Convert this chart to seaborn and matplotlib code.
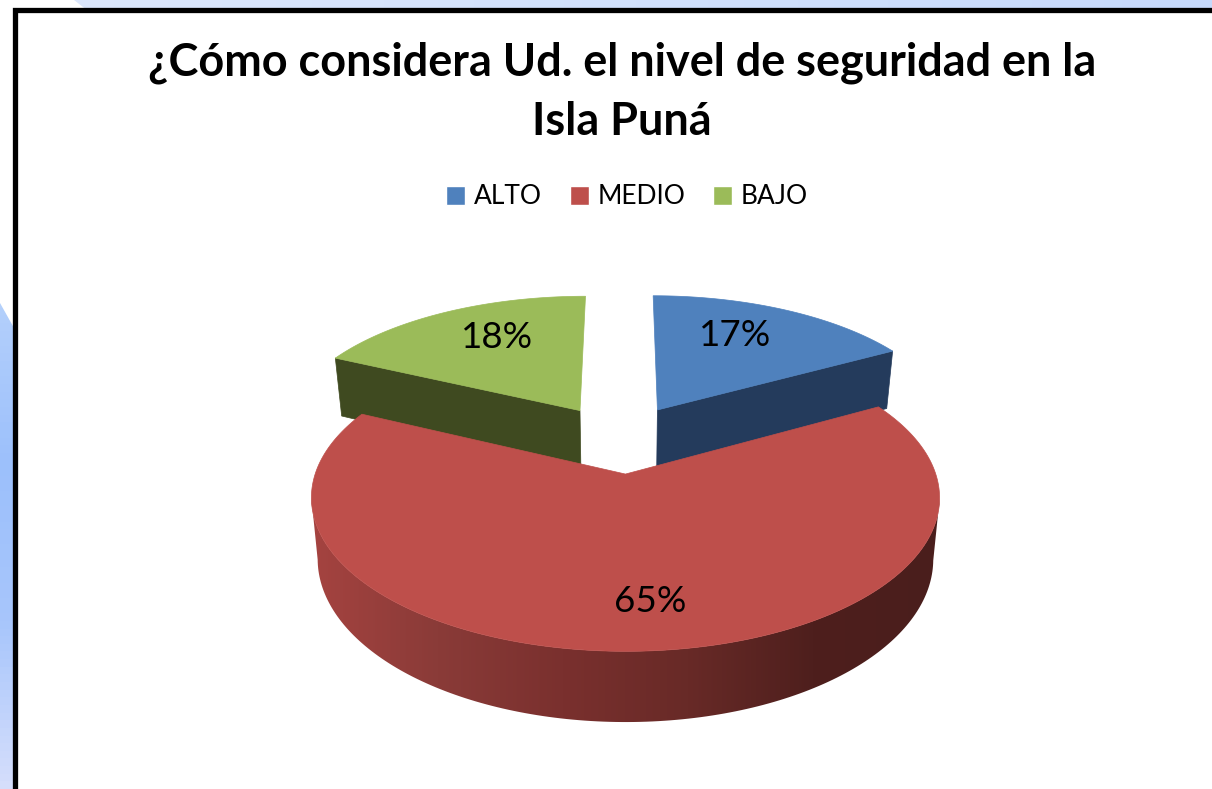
import numpy as np
import matplotlib
matplotlib.use("Agg")
from matplotlib import pyplot as plt
from matplotlib.colors import LinearSegmentedColormap
from matplotlib.patches import Patch, Polygon, Rectangle
import seaborn as sns

# chart data
categories = ["ALTO", "MEDIO", "BAJO"]
values = [17, 65, 18]
labels = ["17%", "65%", "18%"]
title = "¿Cómo considera Ud. el nivel de seguridad en la\nIsla Puná"

top_colors = ["#4F81BD", "#BE4F4B", "#9BBB59"]
side_colors = ["#243B5C", "#7A302E", "#3F4A20"]
red_side = ["#A54340", "#8A3B38", "#7A302E", "#682A27", "#4E1F1D", "#4A1E1C"]

sns.set_theme(style="white")
plt.rcParams["font.family"] = "Lato"

fig = plt.figure(figsize=(12.12, 7.89), dpi=100)
ax = fig.add_axes([0, 0, 1, 1])
ax.axis("off")

# slide background behind the chart
sky = LinearSegmentedColormap.from_list("sky", ["#DCE7FB", "#C6D9FB"])
img = ax.imshow(np.linspace(0, 1, 64)[None, :], extent=(60, 1212, 14, 0), cmap=sky, aspect="auto")
img.set_clip_path(Polygon([(74, 0), (1212, 0), (1212, 14), (92, 14)], transform=ax.transData))
side = LinearSegmentedColormap.from_list("side", ["#B4D0FB", "#9CC0FB", "#A8C6FB", "#D5DEFB"])
img = ax.imshow(np.linspace(0, 1, 64)[:, None], extent=(0, 14, 789, 300), cmap=side, aspect="auto")
img.set_clip_path(Polygon([(0, 303), (14, 328), (14, 789), (0, 789)], transform=ax.transData))

# chart frame
ax.add_patch(Rectangle((14.5, 9.5), 1260, 840, fc="white", ec="black", lw=3.8, zorder=1))

# angles and exploded centres come from a regular pie on a hidden axes
pie_ax = fig.add_axes([0, 0, 0.1, 0.1])
wedges, _ = pie_ax.pie(values, startangle=90, counterclock=False, explode=[0.2, 0.2, 0.2])
pie_ax.set_visible(False)
blue, red, green = wedges


def project(x, y, z=0.0):
    w = 1 + 0.15 * y
    s = 1 - 0.02 * z
    return 623.5 + 301 * s * x / w, 445 - 141 * y / w + 58 * z / w


def outline(wedge, z=0.0, gap=(1.0, 1.0)):
    cx, cy = wedge.center
    t = np.radians(np.linspace(wedge.theta1, wedge.theta2, 240))
    xs = np.r_[cx * gap[0], cx * gap[0] + np.cos(t)]
    ys = np.r_[cy * gap[1], cy * gap[1] + np.sin(t)]
    return project(xs, ys, z)


def radial_face(wedge, index, gap):
    x0, y0 = outline(wedge, 0.0, gap)
    x1, y1 = outline(wedge, 1.1, gap)
    return [x0[0], x0[index], x1[index], x1[0]], [y0[0], y0[index], y1[index], y1[0]]


def silhouette(xs, ys):
    # part of the arc between its left and right extremes on screen
    i, j = np.argmin(xs[1:]) + 1, np.argmax(xs[1:]) + 1
    return xs[i:j + 1], ys[i:j + 1]


blue_gap = (1.15, 1.5)
green_gap = (1.4, 1.5)

# far slices first
xs, ys = radial_face(blue, 1, blue_gap)
ax.fill(xs, ys, color=side_colors[0], lw=0.5, zorder=2)
xs, ys = radial_face(green, -1, green_gap)
ax.fill(xs, ys, color=side_colors[2], lw=0.5, zorder=2)
xs, ys = outline(blue, 0.0, blue_gap)
ax.fill(xs, ys, color=top_colors[0], lw=0.5, zorder=3)
xs, ys = outline(green, 0.0, green_gap)
ax.fill(xs, ys, color=top_colors[2], lw=0.5, zorder=3)

# red rim with its horizontal shading
shade = LinearSegmentedColormap.from_list("shade", red_side)
x0, y0 = outline(red)
top_x, top_y = silhouette(x0, y0)
low_x, low_y = silhouette(*outline(red, 1.0))
rim = Polygon(np.c_[np.r_[top_x, low_x[::-1]], np.r_[top_y, low_y[::-1]]], transform=ax.transData)
img = ax.imshow(np.linspace(0, 1, 256)[None, :], extent=(top_x.min(), top_x.max(), 740, 380),
                cmap=shade, aspect="auto", zorder=4)
img.set_clip_path(rim)
ax.fill(x0, y0, color=top_colors[1], lw=0.5, zorder=5)

ax.set_xlim(0, 1212)
ax.set_ylim(789, 0)

# percentages
ax.text(735, 335, labels[0], fontsize=26.5, ha="center", va="center", color="black", zorder=6)
ax.text(650, 602, labels[1], fontsize=26.5, ha="center", va="center", color="black", zorder=6)
ax.text(497, 337, labels[2], fontsize=26.5, ha="center", va="center", color="black", zorder=6)

ax.text(622, 92, title, fontsize=32.4, fontweight="bold", ha="center", va="center",
        color="black", linespacing=1.5, zorder=6)

handles = [Patch(facecolor=c, label=n) for c, n in zip(top_colors, categories)]
ax.legend(handles=handles, loc="center", bbox_to_anchor=(627 / 1212, 1 - 197 / 789), ncol=3,
          frameon=False, fontsize=19, handlelength=0.72, handleheight=0.74,
          handletextpad=0.34, columnspacing=1.05, labelcolor="black")

fig.savefig("out.png", dpi=100)
